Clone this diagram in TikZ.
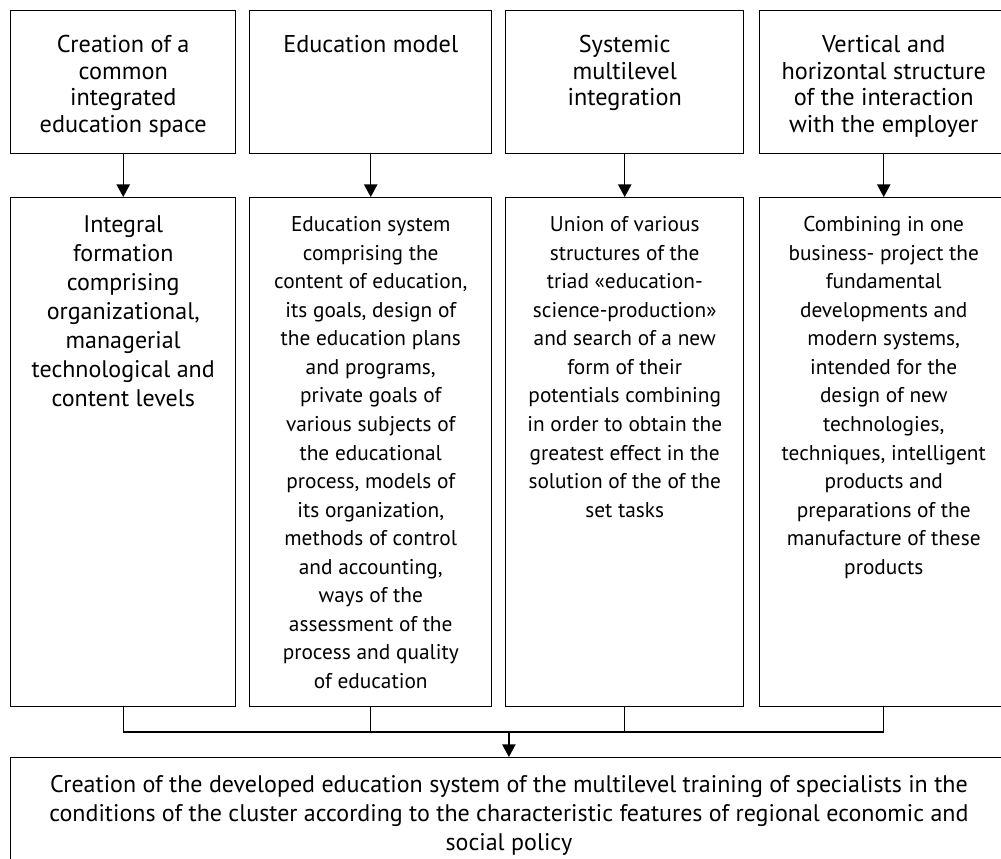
\documentclass[tikz,border=0pt]{standalone}
\usepackage{fontspec}
\setmainfont{PT Sans}
\usetikzlibrary{arrows.meta}

\newcommand{\cell}[4]{\parbox[t][#2][t]{#1}{\centering\rule{0pt}{#3}#4}}

\tikzset{every picture/.style={line width=1.1pt}}
\tikzset{
  stepbox/.style={draw, inner sep=0pt, anchor=north west,
    font=\fontsize{16pt}{21.4pt}\selectfont},
  headbox/.style={stepbox, font=\fontsize{18.2pt}{20pt}\selectfont},
  widebox/.style={stepbox, font=\fontsize{18pt}{21.7pt}\selectfont},
  flow/.style={-{Triangle[length=9.5pt,width=10pt]}},
  joinline/.style={line cap=rect}
}

\begin{document}
\begin{tikzpicture}[x=0.75pt,y=0.75pt,yscale=-1,xscale=1]
\useasboundingbox (0,0) rectangle (1001,858);

%Shape: Rectangle [top row]
\node[headbox] (top1) at (10,10) {\cell{168.75pt}{107.25pt}{31.3pt}{Creation of a\\ common\\ integrated\\ education space}};
\node[headbox] (top2) at (249,10) {\cell{181.5pt}{107.25pt}{31.3pt}{Education model}};
\node[headbox] (top3) at (505,10) {\cell{178.5pt}{107.25pt}{31.3pt}{Systemic\\ multilevel\\ integration}};
\node[headbox] (top4) at (759,10) {\cell{186pt}{107.25pt}{31.3pt}{Vertical and\\ horizontal structure\\ of the interaction\\ with the employer}};

%Shape: Rectangle [middle row]
\node[widebox] (mid1) at (10,197) {\cell{168.75pt}{381.75pt}{26.3pt}{Integral\\ formation\\ comprising\\ organizational,\\ managerial\\ technological and\\ content levels}};
\node[stepbox] (mid2) at (249,197) {\cell{181.5pt}{381.75pt}{25.5pt}{Education system\\ comprising the\\ content of education,\\ its goals, design of\\ the education plans\\ and programs,\\ private goals of\\ various subjects of\\ the educational\\ process, models of\\ its organization,\\ methods of control\\ and accounting,\\ ways of the\\ assessment of the\\ process and quality\\ of education}};
\node[stepbox] (mid3) at (505,197) {\cell{178.5pt}{381.75pt}{25.5pt}{Union of various\\ structures of the\\ triad «education-\\ science-production»\\ and search of a new\\ form of their\\ potentials combining\\ in order to obtain the\\ greatest effect in the\\ solution of the of the\\ set tasks}};
\node[stepbox] (mid4) at (759,197) {\cell{186pt}{381.75pt}{25.5pt}{Combining in one\\ business- project the\\ fundamental\\ developments and\\ modern systems,\\ intended for the\\ design of new\\ technologies,\\ techniques, intelligent\\ products and\\ preparations of the\\ manufacture of these\\ products}};

%Shape: Rectangle [result]
\node[widebox] (result) at (9.5,757) {\cell{748pt}{90pt}{25.8pt}{Creation of the developed education system of the multilevel training of specialists in the\\ conditions of the cluster according to the characteristic features of regional economic and\\ social policy}};

%Straight Lines [top to middle]
\foreach \i in {1,...,4}
  \draw[flow] (top\i) -- (mid\i);

%Straight Lines [collector]
\coordinate (join) at ([yshift=-25*0.75pt]result.north);
\draw[joinline] (mid1.south) |- (join) -| (mid4.south);
\draw (mid2.south) -- (mid2.south |- join);
\draw (mid3.south) -- (mid3.south |- join);
\draw[flow] (join) -- (result);

\end{tikzpicture}
\end{document}
